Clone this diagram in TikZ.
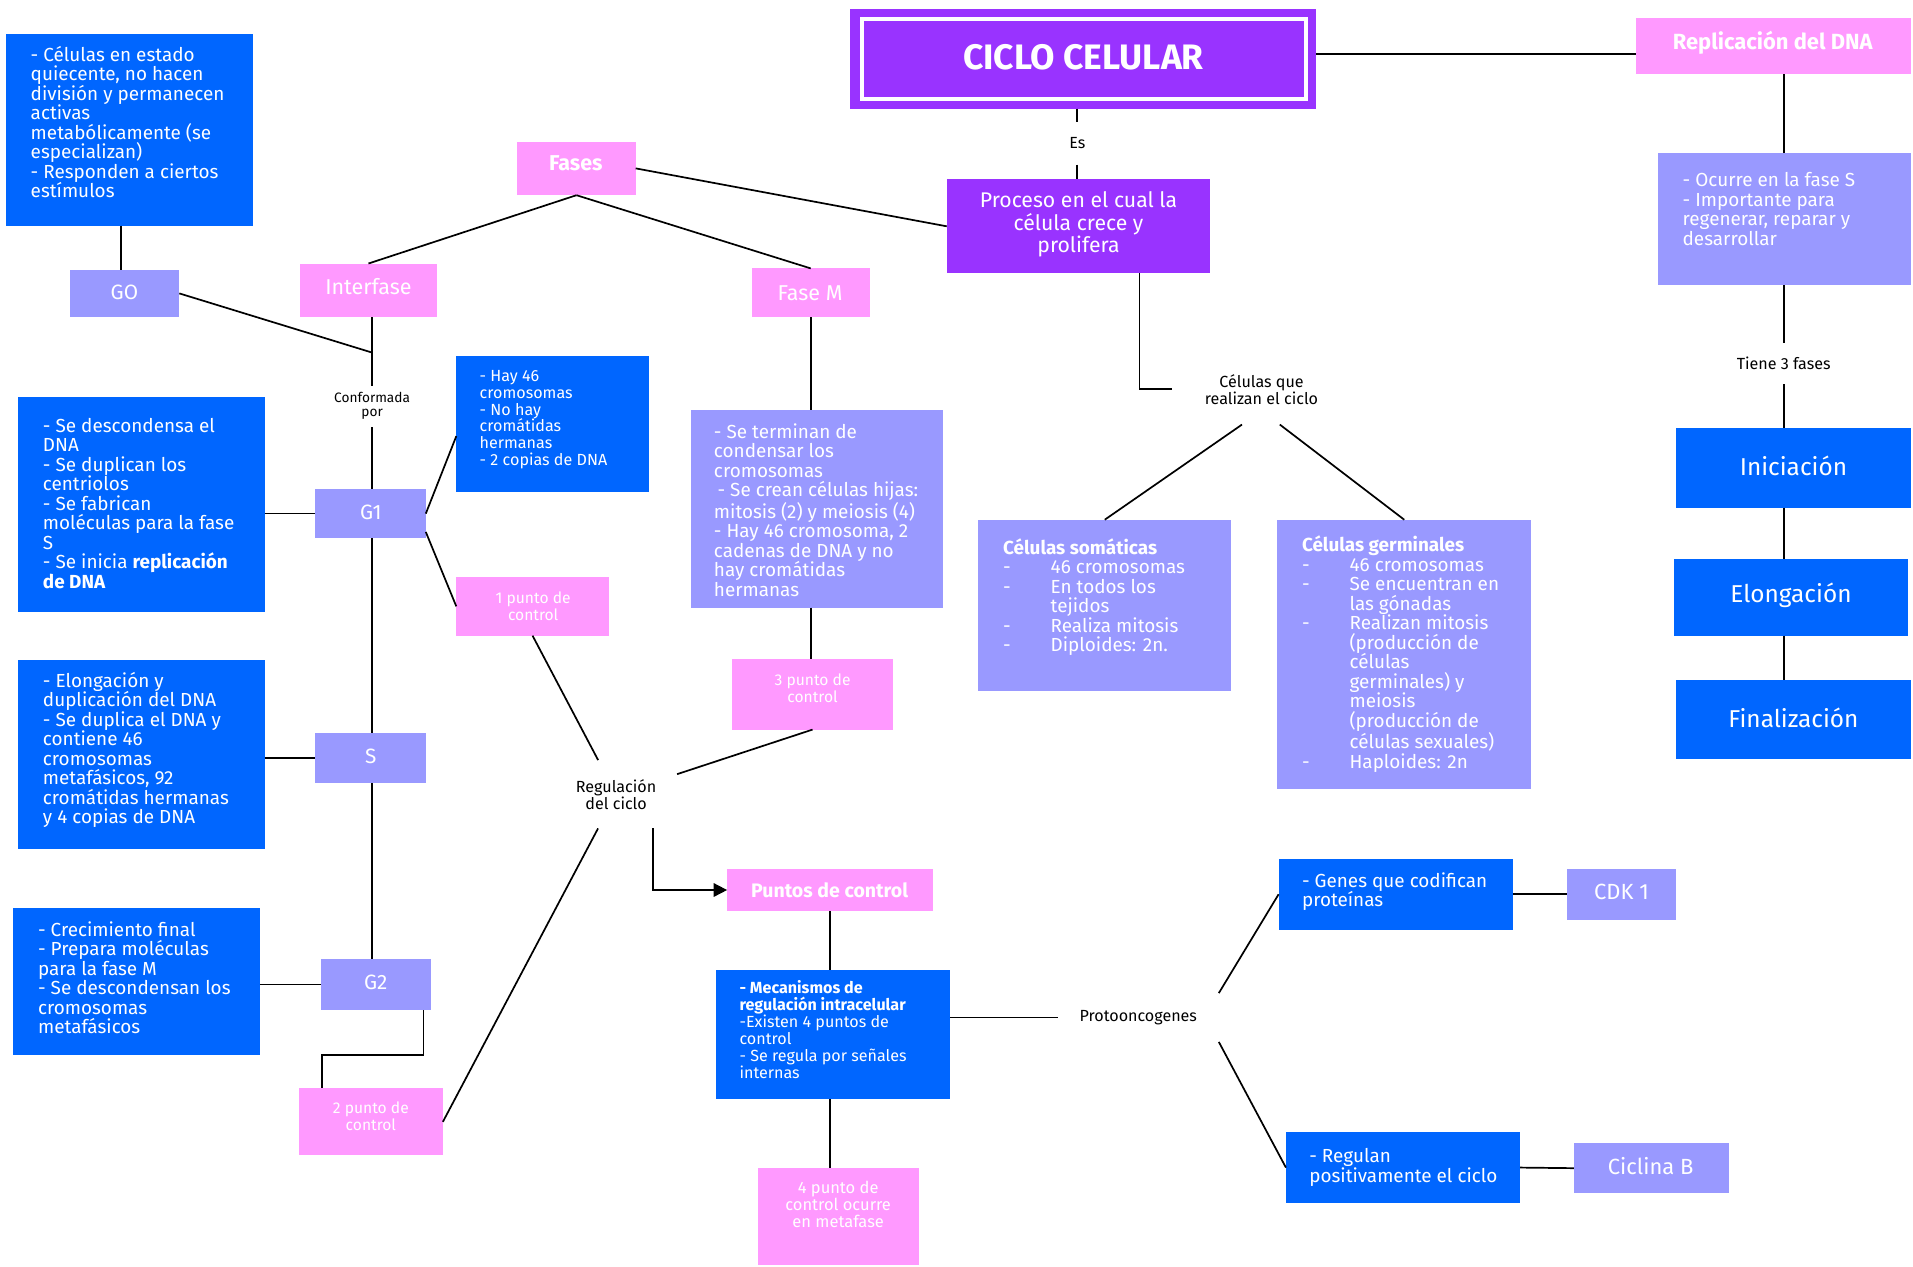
\documentclass[tikz,border=0pt]{standalone}
\usepackage{fontspec}
\setmainfont{Fira Sans}
\usetikzlibrary{arrows.meta,calc}
\definecolor{cblue}{HTML}{0066FF}
\definecolor{cperi}{HTML}{9999FF}
\definecolor{cpink}{HTML}{FF99FF}
\definecolor{cpurple}{HTML}{9933FF}
% text sizes
\newcommand{\fbody}{\fontsize{15.5}{16}\selectfont}
\newcommand{\fsmall}{\fontsize{13.2}{13.8}\selectfont}
\newcommand{\fpink}{\fontsize{12.8}{13.8}\selectfont}
\newcommand{\flbl}{\fontsize{13.2}{14}\selectfont}
\newcommand{\fhead}{\fontsize{17.4}{18.2}\selectfont}
% fixed first-line heights
\newcommand{\tstrut}{\rule{0pt}{15pt}}
\newcommand{\sstrut}{\rule{0pt}{13pt}}
% hanging list items
\newcommand{\dashitem}{\makebox[39pt][l]{-}}
\newcommand{\dashcont}{\hspace*{39pt}}
\begin{document}
\begin{tikzpicture}[x=1pt,y=-1pt,
  box/.style={fill=#1, inner sep=0pt, outer sep=0pt, anchor=north west},
  wtext/.style={text=white, inner sep=0pt, align=left, anchor=north west, font=\fbody},
  stext/.style={text=white, inner sep=0pt, align=left, anchor=north west, font=\fsmall},
  ctext/.style={text=white, inner sep=0pt, align=center},
  lbl/.style={inner sep=0pt, outer sep=0pt, align=center, font=\flbl, text=black},
  conn/.style={draw=black, line width=1.4pt}]
\useasboundingbox (0,0) rectangle (1568,1038);
\fill[white] (0,0) rectangle (1568,1038);

% ---------- title ----------
\node[box=cpurple, minimum width=382pt, minimum height=82pt] (ciclo) at (697,7) {};
\draw[white, line width=3pt] ([shift={(9.5,8.5)}]ciclo.north west) rectangle ([shift={(-8.5,-8)}]ciclo.south east);
\node[ctext, font=\fontsize{29}{32}\selectfont\bfseries] (ciclo-t) at (888,47) {CICLO CELULAR};

\node[box=cpurple, minimum width=216pt, minimum height=77pt] (proc) at (776,147) {};
\node[ctext, font=\fhead] (proc-t) at (884,184) {Proceso en el cual la\\célula crece y\\prolifera};

\node[lbl, minimum height=35pt] (es) at (883,117.5) {Es};

% ---------- DNA replication ----------
\node[box=cpink, minimum width=225pt, minimum height=46pt] (rep) at (1341,15) {};
\node[ctext, font=\fontsize{18}{20}\selectfont\bfseries] (rep-t) at (1453,35) {Replicación del DNA};
\node[box=cperi, minimum width=207pt, minimum height=109pt] (repd) at (1359,125) {};
\node[wtext] (repd-t) at (1379,138) {\tstrut - Ocurre en la fase S\\- Importante para\\regenerar, reparar y\\desarrollar};
\node[lbl, minimum height=34pt] (tiene) at (1462,298) {Tiene 3 fases};
\node[box=cblue, minimum width=192pt, minimum height=65pt] (ini) at (1374,351) {};
\node[ctext, font=\fontsize{20}{22}\selectfont] (ini-t) at (1470,382) {Iniciación};
\node[box=cblue, minimum width=192pt, minimum height=63pt] (elo) at (1372,458) {};
\node[ctext, font=\fontsize{20}{22}\selectfont] (elo-t) at (1468,488) {Elongación};
\node[box=cblue, minimum width=192pt, minimum height=65pt] (fin) at (1374,557) {};
\node[ctext, font=\fontsize{20}{22}\selectfont] (fin-t) at (1470,588) {Finalización};

% ---------- cell types ----------
\node[lbl, minimum width=146pt, minimum height=58pt] (cel) at (1034,319) {Células que\\realizan el ciclo};
\node[box=cperi, minimum width=207pt, minimum height=140pt] (som) at (802,426) {};
\node[wtext] (som-t) at (822,439) {\tstrut\textbf{Células somáticas}\\\dashitem 46 cromosomas\\\dashitem En todos los\\\dashcont tejidos\\\dashitem Realiza mitosis\\\dashitem Diploides: 2n.};
\node[box=cperi, minimum width=208pt, minimum height=221pt] (germ) at (1047,426) {};
\node[wtext] (germ-t) at (1067,437) {\tstrut\textbf{Células germinales}\\\dashitem 46 cromosomas\\\dashitem Se encuentran en\\\dashcont las gónadas\\\dashitem Realizan mitosis\\\dashcont (producción de\\\dashcont células\\\dashcont germinales) y\\\dashcont meiosis\\\dashcont (producción de\\\dashcont células sexuales)\\\dashitem Haploides: 2n};

% ---------- phases ----------
\node[box=cpink, minimum width=97pt, minimum height=44pt] (fases) at (424,116) {};
\node[ctext, font=\fontsize{17.6}{19}\selectfont\bfseries] (fases-t) at (472,134) {Fases};
\node[box=cpink, minimum width=112pt, minimum height=44pt] (inter) at (246,216) {};
\node[ctext, font=\fontsize{17.6}{19}\selectfont] (inter-t) at (302,235) {Interfase};
\node[box=cpink, minimum width=97pt, minimum height=40pt] (fasem) at (616,220) {};
\node[ctext, font=\fontsize{17.6}{19}\selectfont] (fasem-t) at (664,240) {Fase M};

\node[box=cblue, minimum width=202pt, minimum height=157pt] (g0d) at (5,28) {};
\node[wtext] (g0d-t) at (25,35) {\tstrut - Células en estado\\quiecente, no hacen\\división y permanecen\\activas\\metabólicamente (se\\especializan)\\- Responden a ciertos\\estímulos};
\node[box=cperi, minimum width=90pt, minimum height=39pt] (g0) at (57,221) {};
\node[ctext, font=\fontsize{17}{18}\selectfont] (g0-t) at (102,240) {GO};

\node[lbl, font=\fontsize{11.2}{11.5}\selectfont, minimum height=34pt] (conf) at (305,333) {Conformada\\por};

\node[box=cperi, minimum width=91pt, minimum height=40pt] (g1) at (258,401) {};
\node[ctext, font=\fontsize{17}{18}\selectfont] (g1-t) at (304,420) {G1};
\node[box=cblue, minimum width=202pt, minimum height=177pt] (g1d) at (15,325) {};
\node[wtext] (g1d-t) at (35,339) {\tstrut - Se descondensa el\\DNA\\- Se duplican los\\centriolos\\- Se fabrican\\moléculas para la fase\\S\\- Se inicia \textbf{replicación}\\\textbf{de DNA}};
\node[box=cblue, minimum width=158pt, minimum height=111pt] (g1r) at (374,292) {};
\node[stext] (g1r-t) at (393,299.4) {\sstrut - Hay 46\\cromosomas\\- No hay\\cromátidas\\hermanas\\- 2 copias de DNA};
\node[box=cpink, minimum width=125pt, minimum height=48pt] (p1) at (374,473) {};
\node[ctext, font=\fpink] (p1-t) at (437,497) {1 punto de\\control};

\node[box=cperi, minimum width=91pt, minimum height=41pt] (s) at (258,601) {};
\node[ctext, font=\fontsize{17}{18}\selectfont] (s-t) at (304,620) {S};
\node[box=cblue, minimum width=202pt, minimum height=155pt] (sd) at (15,541) {};
\node[wtext] (sd-t) at (35,548) {\tstrut - Elongación y\\duplicación del DNA\\- Se duplica el DNA y\\contiene 46\\cromosomas\\metafásicos, 92\\cromátidas hermanas\\y 4 copias de DNA};

\node[box=cperi, minimum width=90pt, minimum height=42pt] (g2) at (263,786) {};
\node[ctext, font=\fontsize{17}{18}\selectfont] (g2-t) at (308,805) {G2};
\node[box=cblue, minimum width=202pt, minimum height=121pt] (g2d) at (11,744) {};
\node[wtext] (g2d-t) at (31,752) {\tstrut - Crecimiento final\\- Prepara moléculas\\para la fase M\\- Se descondensan los\\cromosomas\\metafásicos};
\node[box=cpink, minimum width=118pt, minimum height=55pt] (p2) at (245,892) {};
\node[ctext, font=\fpink] (p2-t) at (304,915) {2 punto de\\control};

\node[box=cperi, minimum width=207pt, minimum height=162pt] (fmd) at (566,336) {};
\node[wtext] (fmd-t) at (585,344) {\tstrut - Se terminan de\\condensar los\\cromosomas\\\hspace*{3pt}- Se crean células hijas:\\mitosis (2) y meiosis (4)\\- Hay 46 cromosoma, 2\\cadenas de DNA y no\\hay cromátidas\\hermanas};
\node[box=cpink, minimum width=132pt, minimum height=58pt] (p3) at (600,540) {};
\node[ctext, font=\fpink] (p3-t) at (666,564) {3 punto de\\control};

% ---------- regulation ----------
\node[lbl, minimum width=100pt, minimum height=56pt] (reg) at (505,651) {Regulación\\del ciclo};
\node[box=cpink, minimum width=169pt, minimum height=35pt] (pc) at (596,712) {};
\node[ctext, font=\fontsize{16}{17}\selectfont\bfseries] (pc-t) at (680,730) {Puntos de control};
\node[box=cblue, minimum width=192pt, minimum height=106pt] (mec) at (587,795) {};
\node[stext] (mec-t) at (606,801.4) {\sstrut\textbf{- Mecanismos de}\\\textbf{regulación intracelular}\\-Existen 4 puntos de\\control\\- Se regula por señales\\internas};
\node[box=cpink, minimum width=132pt, minimum height=80pt] (p4) at (621,957) {};
\node[ctext, font=\fontsize{13.5}{13.8}\selectfont] (p4-t) at (687,987) {4 punto de\\control ocurre\\en metafase};

\node[lbl, minimum width=132pt, minimum height=40pt] (proto) at (933,834) {Protooncogenes};
\node[box=cblue, minimum width=192pt, minimum height=58pt] (genes) at (1048,704) {};
\node[wtext] (genes-t) at (1067,712) {\tstrut - Genes que codifican\\proteínas};
\node[box=cperi, minimum width=90pt, minimum height=42pt] (cdk) at (1284,712) {};
\node[ctext, font=\fontsize{18}{19}\selectfont] (cdk-t) at (1329,731) {CDK 1};
\node[box=cblue, minimum width=192pt, minimum height=58pt] (regl) at (1054,928) {};
\node[wtext] (regl-t) at (1073,938) {\tstrut - Regulan\\positivamente el ciclo};
\node[box=cperi, minimum width=127pt, minimum height=41pt] (ciclb) at (1290,937) {};
\node[ctext, font=\fontsize{18}{19}\selectfont] (ciclb-t) at (1353,956) {Ciclina B};

% ---------- connectors ----------
\draw[conn] ([yshift=4pt]ciclo.east) -- ([yshift=4pt]ciclo.east -| rep.west);
\draw[conn] (rep.south -| repd.north) -- (repd.north);
\draw[conn] (repd.south) -- (repd.south |- tiene.north);
\draw[conn] (tiene.south) -- (tiene.south |- ini.north);
\draw[conn] (ini.south -| tiene) -- (elo.north -| tiene);
\draw[conn] (elo.south -| tiene) -- (fin.north -| tiene);

\draw[conn] (es |- ciclo.south) -- (es.north);
\draw[conn] (es.south) -- (es |- proc.north);
\draw[conn] (fases.east) -- (proc.west);
\draw[conn] (fases.south) -- (inter.north);
\draw[conn] (fases.south) -- (fasem.north);

\draw[conn] ([xshift=50pt]proc.south) |- (cel.west);
\draw[conn] ([xshift=-16pt]cel.south) -- (som.north);
\draw[conn] ([xshift=15pt]cel.south) -- (germ.north);

\draw[conn] (fasem.south) -- (fasem.south |- fmd.north);
\draw[conn] (fmd.south -| fasem.south) -- (p3.north -| fasem.south);

\coordinate (jg0) at (305,289);
\draw[conn] ([xshift=-3pt]g0.north |- g0d.south) -- ([xshift=-3pt]g0.north);
\draw[conn] (g0.east) -- (jg0);
\draw[conn] (conf |- inter.south) -- (conf.north);
\draw[conn] (conf.south) -- (conf.south |- g1.north);
\draw[conn] (g1.south -| conf) -- (s.north -| conf);
\draw[conn] (s.south -| conf) -- (g2.north -| conf);
\draw[conn] (g1d.east |- g1.west) -- (g1.west);
\draw[conn] (sd.east |- s.west) -- (s.west);
\draw[conn] (g2d.east |- g2.west) -- (g2.west);
\draw[conn] (g1.east) -- ($(g1r.west)+(0,10)$);
\draw[conn] ($(g1.east)+(0,15)$) -- (p1.west);
\draw[conn] ($(g2.south east)+(-6,0)$) -- ++(0,37) -| ($(p2.north west)+(19,0)$);

\draw[conn] (p1.south) -- (reg);
\draw[conn] (p2.east) -- (reg);
\draw[conn] (p3.south) -- (reg);
\draw[conn, -{Triangle[length=11pt,width=11pt]}] ($(reg.south east)+(-20,0)$) |- (pc.west);
\draw[conn] (pc.south) -- (pc.south |- mec.north);
\draw[conn] (mec.south -| pc.south) -- (p4.north -| pc.south);
\draw[conn] (mec.east |- proto.west) -- (proto.west);
\draw[conn] (proto.north east) -- (genes.west);
\draw[conn] (proto.south east) -- (regl.west);
\draw[conn] (genes.east) -- (cdk.west);
\draw[conn] (regl.east) -- (ciclb.west);
\end{tikzpicture}
\end{document}
